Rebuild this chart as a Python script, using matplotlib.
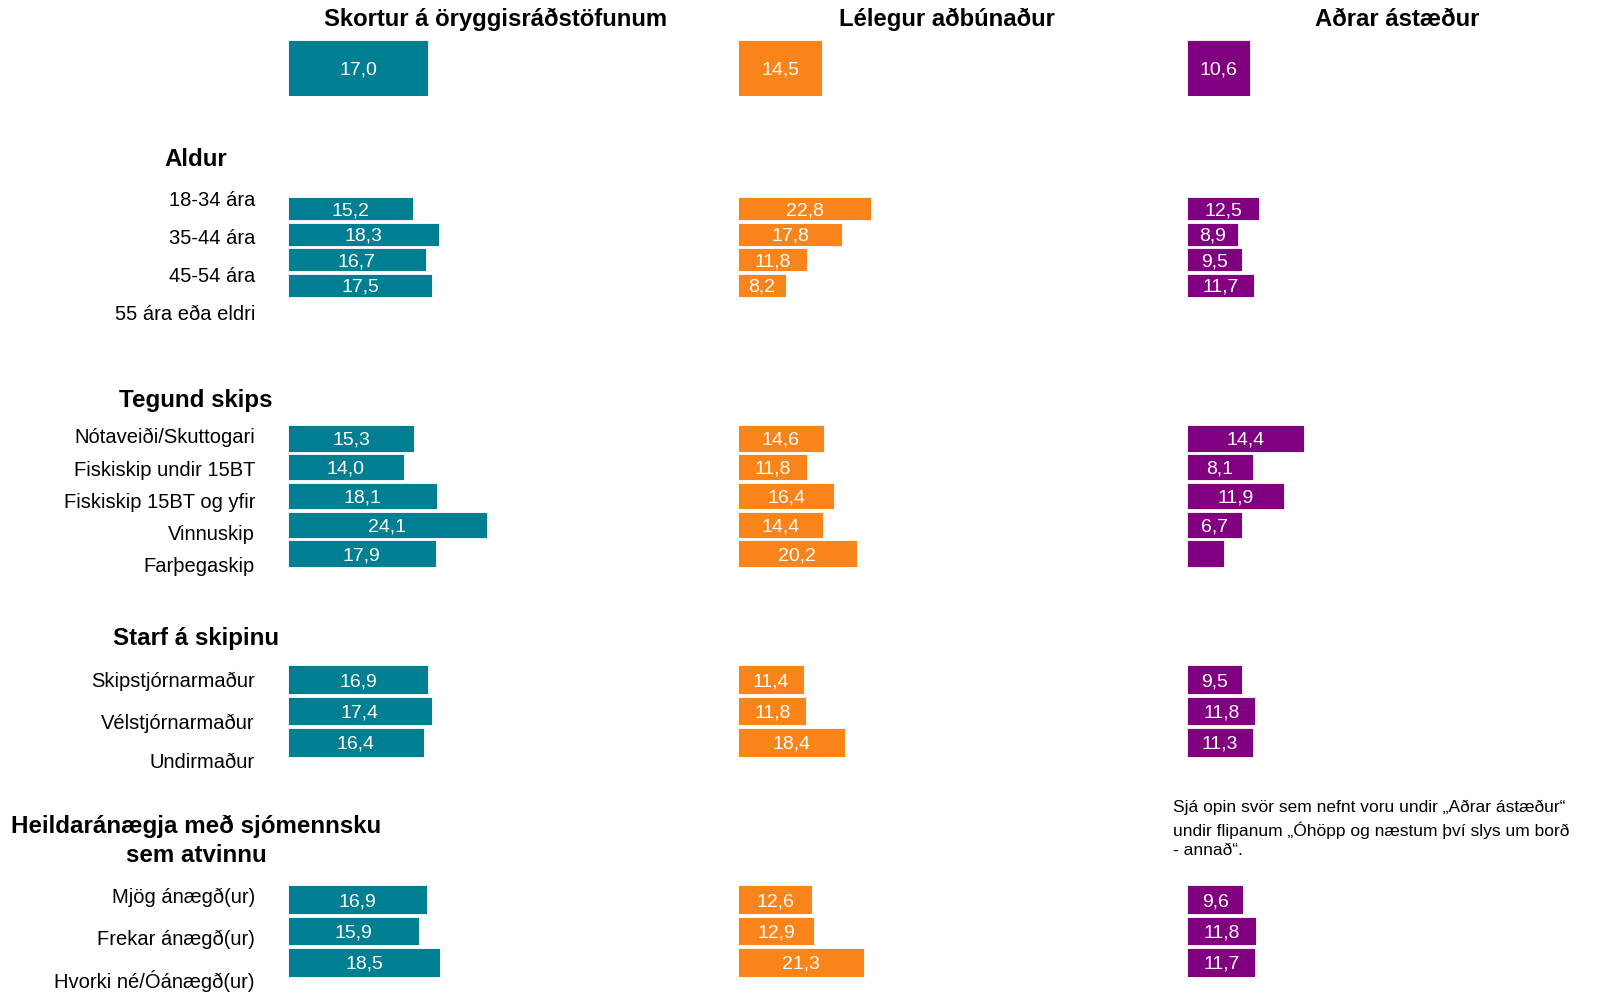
import matplotlib.pyplot as plt

plt.rcParams["font.family"] = ["Liberation Sans", "DejaVu Sans"]

# column titles and colours
columns = ["Skortur á öryggisráðstöfunum", "Lélegur aðbúnaður", "Aðrar ástæður"]
colors = ["#007F92", "#F9841A", "#81007F"]

# overall values
total = [17.0, 14.5, 10.6]

# Aldur
age_labels = ["18-34 ára", "35-44 ára", "45-54 ára", "55 ára eða eldri"]
age_safety = [15.2, 18.3, 16.7, 17.5]
age_facility = [22.8, 17.8, 11.8, 8.2]
age_other = [12.5, 8.9, 9.5, 11.7]

# Tegund skips
ship_labels = ["Nótaveiði/Skuttogari", "Fiskiskip undir 15BT",
               "Fiskiskip 15BT og yfir", "Vinnuskip", "Farþegaskip"]
ship_safety = [15.3, 14.0, 18.1, 24.1, 17.9]
ship_facility = [14.6, 11.8, 16.4, 14.4, 20.2]
ship_other = [14.4, 8.1, 11.9, 6.7, 4.6]
ship_other_shown = [True, True, True, True, False]

# Starf á skipinu
job_labels = ["Skipstjórnarmaður", "Vélstjórnarmaður", "Undirmaður"]
job_safety = [16.9, 17.4, 16.4]
job_facility = [11.4, 11.8, 18.4]
job_other = [9.5, 11.8, 11.3]

# Heildaránægja
sat_labels = ["Mjög ánægð(ur)", "Frekar ánægð(ur)", "Hvorki né/Óánægð(ur)"]
sat_safety = [16.9, 15.9, 18.5]
sat_facility = [12.6, 12.9, 21.3]
sat_other = [9.6, 11.8, 11.7]

note = ("Sjá opin svör sem nefnt voru undir „Aðrar ástæður“\n"
        "undir flipanum „Óhöpp og næstum því slys um borð\n"
        "- annað“.")

W, H = 1602, 993
fig = plt.figure(figsize=(W / 100, H / 100), dpi=100)
base = fig.add_axes([0, 0, 1, 1])
base.set_xlim(0, W)
base.set_ylim(H, 0)
base.axis("off")

col_left = [288, 738, 1187]
span = 300  # pixel width of each bar panel
VAL_FS = 14


def fmt(v):
    return f"{v:.1f}".replace(".", ",")


def panel(col, top, bottom, values, px_per_unit, shown=None, gap=0.08):
    ax = fig.add_axes([col_left[col] / W, 1 - bottom / H, span / W, (bottom - top) / H])
    n = len(values)
    ypos = list(range(n))
    ax.barh(ypos, values, height=1 - gap, color=colors[col],
            edgecolor="white", linewidth=0.6)
    ax.set_xlim(0, span / px_per_unit)
    ax.set_ylim(n - 0.5, -0.5)
    ax.axis("off")
    for i, v in enumerate(values):
        if shown is not None and not shown[i]:
            continue
        ax.text(v / 2, i, fmt(v), ha="center", va="center_baseline",
                color="white", fontsize=VAL_FS)


# column titles
for x, t in zip([496, 947, 1397], columns):
    base.text(x, 19, t, ha="center", va="center", fontsize=17.2, fontweight="bold")

# total row
scales_top = [8.24, 5.8, 5.9]
for c in range(3):
    ax = fig.add_axes([col_left[c] / W, 1 - 96 / H, span / W, 56 / H])
    ax.barh([0], [total[c]], height=1.0, color=colors[c], edgecolor="white", linewidth=0.6)
    ax.set_xlim(0, span / scales_top[c])
    ax.set_ylim(0.5, -0.5)
    ax.axis("off")
    ax.text(total[c] / 2, 0, fmt(total[c]), ha="center", va="center_baseline",
            color="white", fontsize=VAL_FS)

# group headers
hx = 196
HFS = 17.4
base.text(hx, 159, "Aldur", ha="center", va="center", fontsize=HFS, fontweight="bold")
base.text(hx, 400, "Tegund skips", ha="center", va="center", fontsize=HFS, fontweight="bold")
base.text(hx, 639, "Starf á skipinu", ha="center", va="center", fontsize=HFS, fontweight="bold")
base.text(hx, 841, "Heildaránægja með sjómennsku\nsem atvinnu", ha="center", va="center",
          fontsize=HFS, fontweight="bold", linespacing=1.3)

# category labels
lx = 255
LFS = 14.5
for lab, y in zip(age_labels, [201, 239, 276, 314]):
    base.text(lx, y, lab, ha="right", va="center", fontsize=LFS)
for lab, y in zip(ship_labels, [437, 471, 503, 535, 567]):
    base.text(lx, y, lab, ha="right", va="center", fontsize=LFS)
for lab, y in zip(job_labels, [681, 723, 763]):
    base.text(lx, y, lab, ha="right", va="center", fontsize=LFS)
for lab, y in zip(sat_labels, [897, 939, 981]):
    base.text(lx, y, lab, ha="right", va="center", fontsize=LFS)

# bars per group
panel(0, 196, 298, age_safety, 8.25)
panel(1, 196, 298, age_facility, 5.85)
panel(2, 196, 298, age_other, 5.75)

panel(0, 424, 568, ship_safety, 8.25)
panel(1, 424, 568, ship_facility, 5.87)
panel(2, 424, 568, ship_other, 8.15, shown=ship_other_shown)

panel(0, 664, 758, job_safety, 8.27)
panel(1, 664, 758, job_facility, 5.8)
panel(2, 664, 758, job_other, 5.8)

panel(0, 884, 978, sat_safety, 8.22)
panel(1, 884, 978, sat_facility, 5.9)
panel(2, 884, 978, sat_other, 5.85)

base.text(1173, 800, note, ha="left", va="top", fontsize=12.5, linespacing=1.4)

fig.savefig("out.png", dpi=100)
